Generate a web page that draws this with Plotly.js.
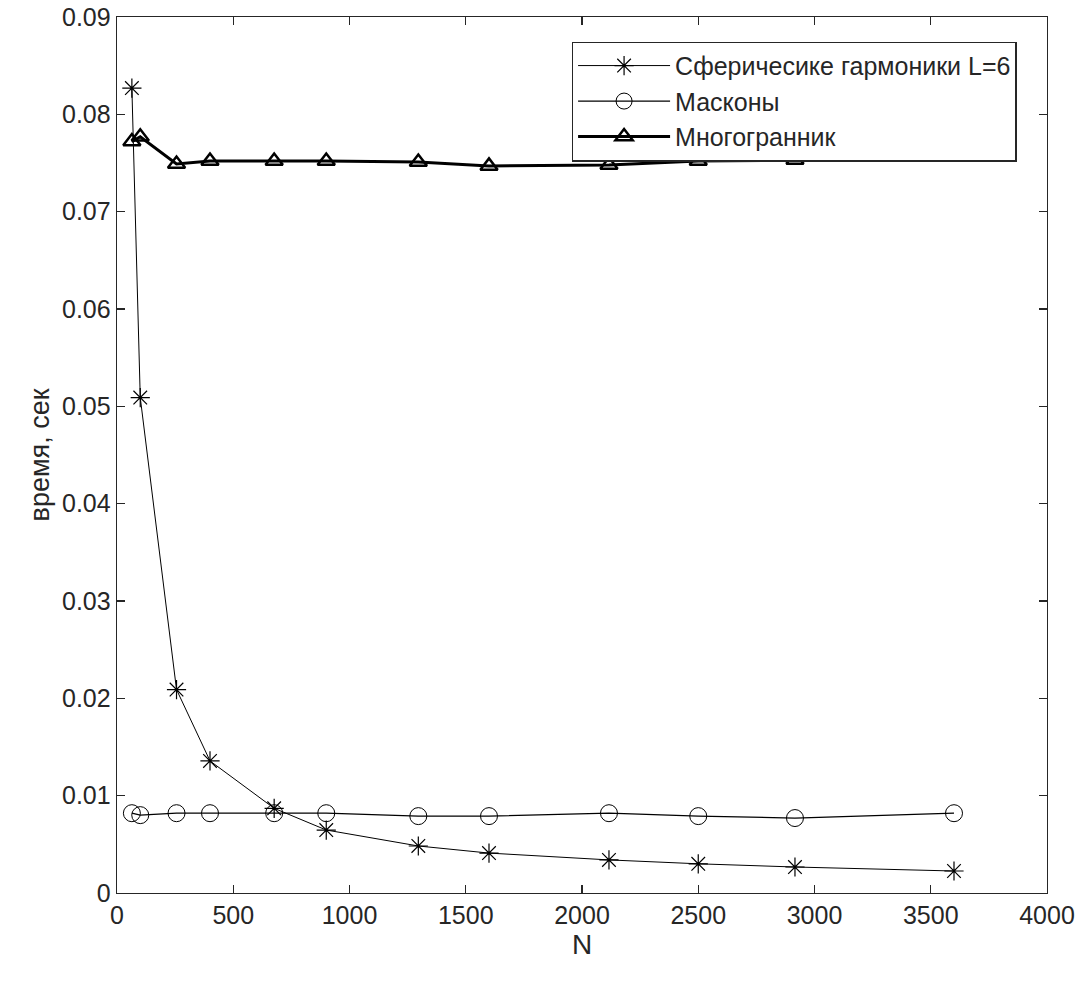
<!DOCTYPE html>
<html>
<head>
<meta charset="utf-8">
<script src="https://cdn.plot.ly/plotly-3.0.1.min.js"></script>
<style>html,body{margin:0;padding:0;background:#fff;}#chart{width:1088px;height:982px;}</style>
</head>
<body>
<div id="chart"></div>
<script>
// Data
const nValues = [64, 100, 256, 400, 676, 900, 1296, 1600, 2116, 2500, 2916, 3600];
const nPoly = [64, 100, 256, 400, 676, 900, 1296, 1600, 2116, 2500, 2916];
const sphericalTimes = [0.0827, 0.0509, 0.0209, 0.01357, 0.0087, 0.00647, 0.00483, 0.0041, 0.0034, 0.0030, 0.00267, 0.00226];
const masconTimes = [0.0082, 0.0080, 0.0082, 0.0082, 0.0082, 0.0082, 0.0079, 0.0079, 0.0082, 0.0079, 0.0077, 0.0082];
const polyTimes = [0.0772, 0.0777, 0.0749, 0.0752, 0.0752, 0.0752, 0.0751, 0.0747, 0.0748, 0.0752, 0.0753];
const seriesNames = ["Сферичесике гармоники L=6", "Масконы", "Многогранник"];
const xTicks = [0, 500, 1000, 1500, 2000, 2500, 3000, 3500, 4000];
const yTicks = [0, 0.01, 0.02, 0.03, 0.04, 0.05, 0.06, 0.07, 0.08, 0.09];

const axisColor = "#262626";
const font = "Liberation Sans, Arial, Helvetica, sans-serif";

const traces = [
  {
    x: nValues, y: sphericalTimes, name: seriesNames[0], type: "scatter", mode: "lines+markers",
    legendgroup: "g1",
    line: {color: "#000", width: 1},
    marker: {symbol: "asterisk-open", size: 16, color: "#000", line: {color: "#000", width: 1.2}}
  },
  {
    x: nValues, y: masconTimes, name: seriesNames[1], type: "scatter", mode: "lines+markers",
    legendgroup: "g2",
    line: {color: "#000", width: 1.3},
    marker: {symbol: "circle-open", size: 17, color: "#000", line: {color: "#000", width: 1}}
  },
  {
    x: nPoly, y: polyTimes, name: seriesNames[2], type: "scatter", mode: "lines+markers",
    legendgroup: "g3",
    line: {color: "#000", width: 3},
    marker: {symbol: "triangle-up-open", size: 15, color: "#000", line: {color: "#000", width: 2.5}}
  }
];

const layout = {
  width: 1088, height: 982,
  margin: {l: 117, r: 41, t: 17, b: 89, pad: 0},
  paper_bgcolor: "#fff", plot_bgcolor: "#fff",
  font: {family: font, size: 25, color: axisColor},
  showlegend: true,
  legend: {
    x: 0.9675, y: 0.972, xanchor: "right", yanchor: "top",
    bgcolor: "#fff", bordercolor: axisColor, borderwidth: 1.3,
    font: {family: font, size: 25, color: axisColor},
    itemwidth: 92, traceorder: "grouped", tracegroupgap: 0
  },
  xaxis: {
    range: [0, 4000], tickvals: xTicks, ticktext: xTicks.map(String),
    showgrid: false, zeroline: false,
    showline: true, linecolor: axisColor, linewidth: 1.3, mirror: "ticks",
    ticks: "inside", ticklen: 8, tickcolor: axisColor, tickwidth: 1.3,
    tickfont: {family: font, size: 25, color: axisColor},
    title: {text: "N", font: {family: font, size: 28, color: axisColor}, standoff: 4}
  },
  yaxis: {
    range: [0, 0.09], tickvals: yTicks, ticktext: yTicks.map(v => v === 0 ? "0" : v.toFixed(2)),
    showgrid: false, zeroline: false,
    showline: true, linecolor: axisColor, linewidth: 1.3, mirror: "ticks",
    ticks: "inside", ticklen: 8, tickcolor: axisColor, tickwidth: 1.3,
    ticklabelstandoff: 0,
    tickfont: {family: font, size: 25, color: axisColor},
    title: {text: "время, сек", font: {family: font, size: 27, color: axisColor}, standoff: 4}
  }
};

Plotly.newPlot("chart", traces, layout, {displayModeBar: false, staticPlot: true});
</script>
</body>
</html>
